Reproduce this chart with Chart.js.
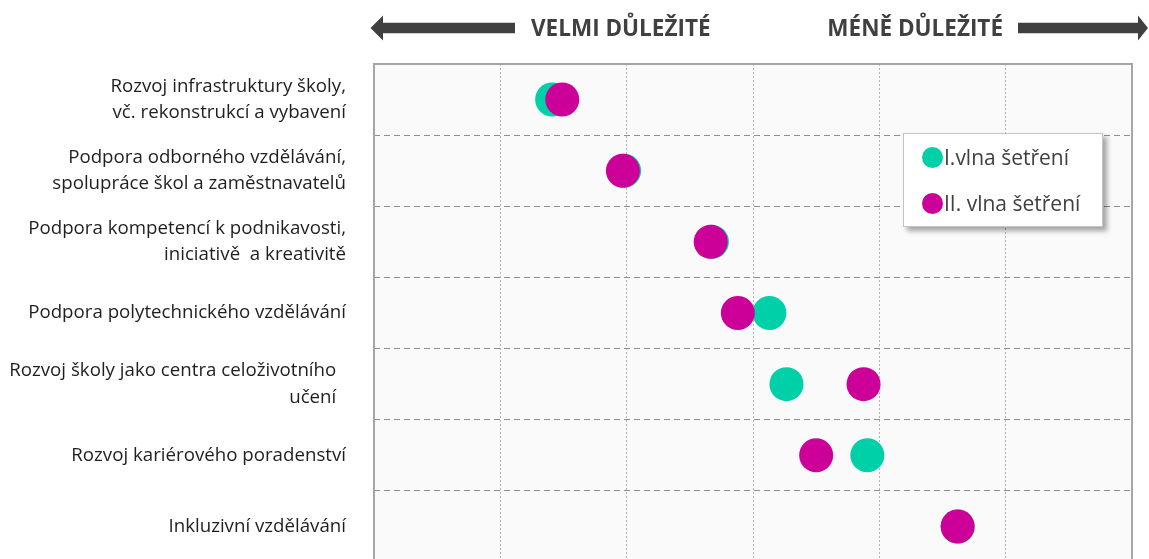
<!DOCTYPE html>
<html lang="cs">
<head>
<meta charset="utf-8">
<title>Priority rozvoje škol</title>
<script src="https://cdn.jsdelivr.net/npm/chart.js@4.4.1/dist/chart.umd.min.js"></script>
<style>
  body {
    margin: 0;
    width: 1149px;
    height: 559px;
    overflow: hidden;
    background: #fff;
    font-family: "Open Sans", sans-serif;
  }
  #wrap { position: relative; width: 1149px; height: 620px; }
  .hdr {
    position: absolute;
    top: 13px;
    font-weight: 700;
    font-size: 22.5px;
    line-height: 30px;
    color: #404040;
    white-space: nowrap;
  }
  #hdrLeft { left: 531px; }
  #hdrRight { right: 146px; }
  #legend {
    position: absolute;
    left: 903px;
    top: 133px;
    width: 200px;
    height: 94px;
    box-sizing: border-box;
    background: #fff;
    border: 1px solid #c4c4c4;
    box-shadow: 4px 4px 5px rgba(0, 0, 0, 0.35);
  }
  #legend .item {
    display: flex;
    align-items: center;
    height: 46px;
    font-size: 21px;
    color: #404040;
    white-space: nowrap;
  }
  #legend .dot {
    display: inline-block;
    width: 21px;
    height: 21px;
    border-radius: 50%;
    margin: 0 1px 0 18px;
  }
</style>
</head>
<body>
<div id="wrap">
  <canvas id="chart"></canvas>
  <div class="hdr" id="hdrLeft"></div>
  <div class="hdr" id="hdrRight"></div>
  <div id="legend"></div>
</div>
<script>
// === Data ===
const categories = [
  ["Rozvoj infrastruktury školy,", "vč. rekonstrukcí a vybavení"],
  ["Podpora odborného vzdělávání,", "spolupráce škol a zaměstnavatelů"],
  ["Podpora kompetencí k podnikavosti,", "iniciativě  a kreativitě"],
  "Podpora polytechnického vzdělávání",
  ["Rozvoj školy jako centra celoživotního  ", "učení  "],
  "Rozvoj kariérového poradenství",
  "Inkluzivní vzdělávání",
];
const seriesNames = ["I.vlna šetření", "II. vlna šetření"];
const waveOne = [1.41, 1.98, 2.675, 3.13, 3.265, 3.905, 4.62];
const waveTwo = [1.49, 1.97, 2.665, 2.88, 3.875, 3.5, 4.62];
const headerLabels = ["VELMI DŮLEŽITÉ", "MÉNĚ DŮLEŽITÉ"];
const axisMin = 0;
const axisMax = 6;

const colors = ["#00D0A8", "#CC0099"];

// === Plot frame + header arrows ===
function drawArrow(ctx, tipX, tailX, y, headLen) {
  const dir = tailX > tipX ? 1 : -1;
  const neck = tipX + dir * headLen;
  ctx.beginPath();
  ctx.moveTo(tipX, y);
  ctx.lineTo(neck, y - 12.5);
  ctx.lineTo(neck, y - 5.3);
  ctx.lineTo(tailX, y - 5.3);
  ctx.lineTo(tailX, y + 5.3);
  ctx.lineTo(neck, y + 5.3);
  ctx.lineTo(neck, y + 12.5);
  ctx.closePath();
  ctx.fill();
}

const framePlugin = {
  id: "frame",
  beforeDraw(chart) {
    const { ctx, chartArea: a } = chart;
    ctx.save();
    ctx.fillStyle = "#FAFAFA";
    ctx.fillRect(a.left, a.top, a.right - a.left, a.bottom - a.top);
    ctx.restore();
  },
  beforeDatasetsDraw(chart) {
    const { ctx, chartArea: a } = chart;
    ctx.save();
    ctx.strokeStyle = "#A6A6A6";
    ctx.lineWidth = 2;
    ctx.strokeRect(a.left, a.top, a.right - a.left, a.bottom - a.top);
    ctx.restore();
  },
  afterDraw(chart) {
    const ctx = chart.ctx;
    ctx.save();
    ctx.fillStyle = "#404040";
    drawArrow(ctx, 370.5, 515, 28, 12.5);
    drawArrow(ctx, 1148, 1018, 28, 10);
    ctx.restore();
  },
};

// === Legend ===
function buildLegend(chart) {
  const box = document.getElementById("legend");
  box.innerHTML = chart.data.datasets
    .map(
      (ds) =>
        `<div class="item"><span class="dot" style="background:${ds.backgroundColor}"></span>${ds.label}</div>`
    )
    .join("");
}

// === Chart ===
function renderChart() {
  document.getElementById("hdrLeft").textContent = headerLabels[0];
  document.getElementById("hdrRight").textContent = headerLabels[1];

  const canvas = document.getElementById("chart");
  canvas.width = 1149;
  canvas.height = 620;

  const chart = new Chart(canvas, {
    type: "line",
    data: {
      labels: categories,
      datasets: [waveOne, waveTwo].map((values, i) => ({
        label: seriesNames[i],
        data: values,
        order: 1 - i, // second wave is drawn on top
        showLine: false,
        backgroundColor: colors[i],
        borderColor: colors[i],
        pointBackgroundColor: colors[i],
        pointBorderWidth: 0,
        pointRadius: 17,
        pointHoverRadius: 17,
      })),
    },
    options: {
      indexAxis: "y",
      responsive: false,
      animation: false,
      layout: { padding: { top: 64, right: 13, bottom: 58, left: 0 } },
      plugins: {
        legend: { display: false },
        tooltip: { enabled: false },
      },
      scales: {
        x: {
          type: "linear",
          min: axisMin,
          max: axisMax,
          ticks: { display: false, stepSize: 1 },
          grid: { color: "#B3B3B3", lineWidth: 1, drawTicks: false },
          border: { display: false, dash: [2, 2] },
        },
        y: {
          type: "category",
          offset: true,
          grid: { offset: true, color: "#8F8F8F", lineWidth: 1, drawTicks: false },
          border: { display: false, dash: [6, 4] },
          ticks: {
            padding: 28,
            color: "#1F1F1F",
            font: { family: "Open Sans", size: 18.7, lineHeight: 1.4 },
          },
          afterFit(scale) {
            scale.width = 374;
          },
        },
      },
    },
    plugins: [framePlugin],
  });

  buildLegend(chart);
}

document.addEventListener("DOMContentLoaded", renderChart);
</script>
</body>
</html>
